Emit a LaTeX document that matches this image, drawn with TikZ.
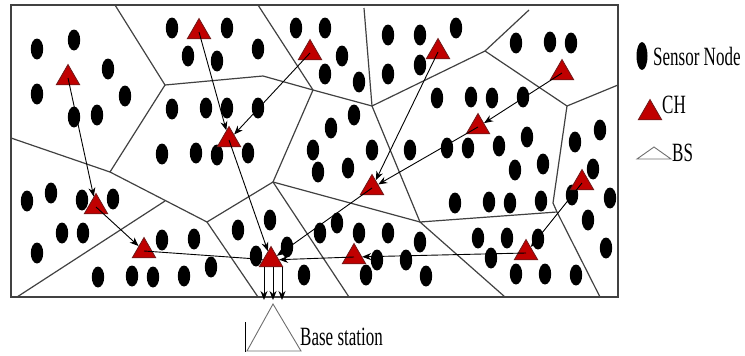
\documentclass[tikz,border=0pt]{standalone}
\usepackage{fontspec}
\setmainfont{Liberation Serif}
\usepackage{graphicx}
\usetikzlibrary{arrows.meta,shapes.geometric,calc}
\definecolor{chred}{RGB}{192,0,0}
\definecolor{chedge}{RGB}{110,25,25}
\definecolor{cellgray}{RGB}{65,65,65}
\definecolor{bsgray}{RGB}{110,110,110}
\newcommand{\tallbox}[1]{\scalebox{1}[1.55]{#1}}

\begin{document}
\begin{tikzpicture}[x=1pt, y=-1pt,
  chnode/.style={regular polygon, regular polygon sides=3, fill=chred,
    draw=chedge, line width=0.8pt, minimum size=27pt, inner sep=0pt},
  cell/.style={cellgray, line width=1.2pt},
  flow/.style={-{Stealth[length=9pt,width=7pt]}, line width=0.9pt},
  lbl/.style={font=\fontsize{17}{20}\selectfont, inner sep=0pt, anchor=west}]
  \useasboundingbox (0,0) rectangle (745,356);
  \def\rx{6.2pt}
  \def\ry{10.5pt}

  % Cell borders
  \draw[cell] (115,5) -- (165,85) -- (110,172) -- (11,138);
  \draw[cell] (110,172) -- (207,222);
  \draw[cell] (17,297) -- (165,201);
  \draw[cell] (165,85) -- (263,76) -- (313,90) -- (372,106) -- (485,51) -- (529,10);
  \draw[cell] (258,5) -- (313,90) -- (273,182);
  \draw[cell] (364,8) -- (372,106) -- (420,222);
  \draw[cell] (485,51) -- (567,106) -- (618,85);
  \draw[cell] (567,106) -- (553,203) -- (557,212) -- (600,297);
  \draw[cell] (557,212) -- (420,222) -- (505,297);
  \draw[cell] (420,222) -- (273,182) -- (207,222) -- (258,297);
  \draw[cell] (273,182) -- (349,297);

  % Field frame
  \draw[cellgray, line width=1.5pt] (11,5) rectangle (618,297);

  % Sensor nodes
  \foreach \px/\py in {37/49, 74/40, 108/69, 37/94, 125/96, 74/117, 97/115,
      172/28, 188/56, 217/61, 227/28, 258/49, 296/28,
      172/109, 206/108, 227/108, 258/108, 162/154, 196/153, 217/155, 248/153,
      325/28, 342/56, 325/74, 359/82, 388/35, 420/35, 456/28, 388/74, 420/65,
      354/115, 331/128, 313/150, 372/150, 410/150,
      437/98, 471/97, 492/98, 523/97, 447/148, 468/148, 499/146, 527/137,
      516/43, 550/42, 571/43, 600/130, 575/142, 318/172, 348/168,
      515/170, 543/164, 593/169, 610/198, 588/220, 606/248,
      455/203, 489/202, 510/203, 541/201, 572/195,
      27/201, 51/193, 82/200, 113/199, 62/233, 83/233, 37/253,
      162/240, 194/239, 98/277, 132/276, 153/277, 184/276, 211/267,
      238/230, 270/220, 256/256, 287/247, 304/275,
      320/233, 337/223, 359/233, 388/233, 420/242,
      377/260, 406/260, 366/275, 426/276,
      478/238, 507/238, 538/239, 491/258, 516/274, 545/274, 576/275}
    \fill (\px,\py) ellipse [x radius=\rx, y radius=\ry];

  % Cluster heads
  \node[chnode] (ch1)  at (68,78)   {};
  \node[chnode] (ch2)  at (199,32)  {};
  \node[chnode] (ch3)  at (310,53)  {};
  \node[chnode] (ch4)  at (229,140) {};
  \node[chnode] (ch5)  at (438,52)  {};
  \node[chnode] (ch6)  at (562,73)  {};
  \node[chnode] (ch7)  at (478,127) {};
  \node[chnode] (ch8)  at (96,207)  {};
  \node[chnode] (ch9)  at (144,251) {};
  \node[chnode] (ch10) at (372,188) {};
  \node[chnode] (ch11) at (271,260) {};
  \node[chnode] (ch12) at (354,257) {};
  \node[chnode] (ch13) at (582,183) {};
  \node[chnode] (ch14) at (526,253) {};

  % Routes to the sink
  \draw[flow] (ch1.center) -- (ch8);
  \draw[flow] (ch8.center) -- (ch9);
  \draw[flow] (ch9.center) -- (ch11);
  \draw[flow] (ch2.center) -- (ch4);
  \draw[flow] (ch3.center) -- (ch4);
  \draw[flow] (ch4.center) -- (ch11);
  \draw[flow] (ch5.center) -- (ch10);
  \draw[flow] (ch6.center) -- (ch7);
  \draw[flow] (ch7.center) -- (ch10);
  \draw[flow] (ch10.center) -- (ch11);
  \draw[flow] (ch12.center) -- (ch11);
  \draw[flow] (ch14.center) -- (ch12);
  \draw[flow] (ch13.center) -- (ch14);

  % Base station
  \coordinate (bs) at (273,304);
  \draw[bsgray, line width=0.9pt] (bs) -- (301,351) -- (247,351) -- cycle;
  \draw[line width=0.9pt] (245,322) -- (245,352);
  \foreach \dx in {-9,0,9}
    \draw[flow] ($(bs |- ch11.south)+(\dx,0)$) -- ($(bs)+(\dx,-4)$);
  \node[lbl] (bslbl) at (300,337) {\tallbox{Base station}};

  % Legend
  \fill (642,56) ellipse [x radius=5.5pt, y radius=14pt];
  \node[lbl] (keysn) at (653,56) {\tallbox{Sensor Node}};
  \node[chnode] (keych) at (650,113) {};
  \node[lbl] (keychlbl) at (662,105) {\tallbox{CH}};
  \draw[bsgray, line width=0.9pt] (654,147) -- (671,159) -- (637,159) -- cycle;
  \node[lbl] (keybs) at (672,153) {\tallbox{BS}};
\end{tikzpicture}
\end{document}
